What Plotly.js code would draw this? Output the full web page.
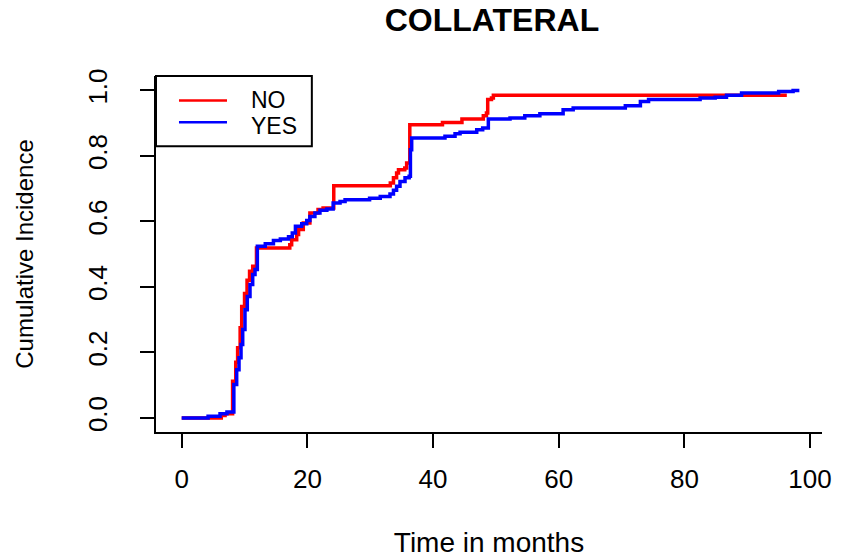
<!DOCTYPE html>
<html>
<head>
<meta charset="utf-8">
<script src="https://cdn.plot.ly/plotly-3.0.1.min.js"></script>
<style>html,body{margin:0;padding:0;background:#fff;}#chart{width:841px;height:558px;}</style>
</head>
<body>
<div id="chart"></div>
<script>
// Cumulative incidence curves
const timeNO = [0, 6.3, 6.9, 8.1, 8.6, 8.9, 9.3, 9.55, 10.0, 10.4, 10.8, 11.3, 11.9, 17.2, 17.5, 18.3, 18.6, 19.35, 20.4, 21.7, 22.5, 24.2, 33.2, 33.7, 34.2, 34.5, 35.5, 35.8, 36.3, 41.5, 44.6, 48.0, 48.5, 48.7, 49.3, 49.6, 96.3];
const cifNO  = [0, 0.007, 0.013, 0.112, 0.17, 0.214, 0.275, 0.34, 0.38, 0.42, 0.448, 0.463, 0.519, 0.529, 0.544, 0.56, 0.575, 0.595, 0.626, 0.636, 0.641, 0.709, 0.717, 0.733, 0.748, 0.758, 0.763, 0.778, 0.895, 0.902, 0.913, 0.923, 0.931, 0.972, 0.977, 0.985, 0.985];

const timeYES = [0, 4.2, 6.1, 7.2, 8.3, 8.75, 9.12, 9.44, 9.71, 10.07, 10.44, 10.87, 11.3, 11.67, 12.04, 13.3, 14.6, 15.7, 17.0, 17.6, 18.1, 19.1, 19.9, 20.4, 21.2, 22.0, 23.1, 24.1, 25.2, 26.0, 29.9, 31.6, 33.15, 33.7, 34.2, 34.74, 35.54, 36.2, 36.4, 36.6, 41.9, 43.5, 44.3, 46.95, 47.9, 48.8, 52.25, 54.6, 57.0, 60.7, 62.3, 70.6, 73.0, 74.3, 82.5, 84.9, 86.7, 89.1, 95.0, 97.3, 98.3];
const cifYES  = [0, 0.005, 0.013, 0.018, 0.102, 0.147, 0.184, 0.224, 0.27, 0.33, 0.371, 0.407, 0.438, 0.453, 0.524, 0.532, 0.542, 0.546, 0.553, 0.565, 0.585, 0.593, 0.603, 0.615, 0.626, 0.634, 0.638, 0.656, 0.661, 0.666, 0.671, 0.676, 0.684, 0.695, 0.707, 0.722, 0.733, 0.738, 0.819, 0.855, 0.86, 0.868, 0.872, 0.88, 0.885, 0.913, 0.916, 0.923, 0.929, 0.941, 0.946, 0.953, 0.966, 0.972, 0.977, 0.979, 0.985, 0.992, 0.997, 1.0, 1.0];

const groupNames = ['NO', 'YES'];
const groupColors = ['#ff0000', '#0000ff'];
const xTicks = [0, 20, 40, 60, 80, 100];
const yTicks = [0, 0.2, 0.4, 0.6, 0.8, 1.0];

const FONT = 'Liberation Sans, Arial, Helvetica, sans-serif';

const traces = [
  {x: timeNO, y: cifNO, name: groupNames[0], mode: 'lines', line: {shape: 'hv', color: groupColors[0], width: 3.5}},
  {x: timeYES, y: cifYES, name: groupNames[1], mode: 'lines', line: {shape: 'hv', color: groupColors[1], width: 3.5}}
];

// custom legend (box, line samples, labels) in paper coordinates
const legLineY = [0.931, 0.870];
const legTextY = [0.9313, 0.8583];
const shapes = [
  {type: 'rect', xref: 'paper', yref: 'paper', x0: 0, x1: 0.234, y0: 0.803, y1: 1, line: {color: '#000', width: 2}, fillcolor: 'rgba(0,0,0,0)'}
];
const annotations = [];
groupNames.forEach((g, i) => {
  shapes.push({type: 'line', xref: 'paper', yref: 'paper', x0: 0.0345, x1: 0.1066, y0: legLineY[i], y1: legLineY[i], line: {color: groupColors[i], width: 2.5}});
  annotations.push({xref: 'paper', yref: 'paper', x: 0.1400, y: legTextY[i], xanchor: 'left', yanchor: 'middle', text: g, showarrow: false, font: {family: FONT, size: 23, color: '#000'}});
});

const layout = {
  width: 841, height: 558,
  margin: {l: 156, r: 19, t: 76, b: 126},
  paper_bgcolor: '#fff', plot_bgcolor: '#fff',
  font: {family: FONT, color: '#000'},
  showlegend: false,
  title: {text: 'COLLATERAL', font: {family: FONT, size: 32, weight: 'bold', color: '#000'}, x: 0.585, xanchor: 'center', y: 0.964, yanchor: 'middle', xref: 'container', yref: 'container'},
  xaxis: {
    range: [-4.09, 101.9], tickvals: xTicks, ticktext: xTicks.map(String),
    showgrid: false, zeroline: false, showline: true, linecolor: '#000', linewidth: 2,
    ticks: 'outside', ticklen: 14, tickwidth: 2, tickcolor: '#000',
    tickfont: {family: FONT, size: 26, color: '#000'}, ticklabelstandoff: 9,
    title: {text: 'Time in months', font: {family: FONT, size: 28, color: '#000'}, standoff: 49},
    automargin: false
  },
  yaxis: {
    range: [-0.043, 1.044], tickvals: yTicks, ticktext: yTicks.map(v => v.toFixed(1)),
    showgrid: false, zeroline: false, showline: true, linecolor: '#000', linewidth: 2,
    ticks: 'outside', ticklen: 14, tickwidth: 2, tickcolor: '#000', tickangle: -90,
    tickfont: {family: FONT, size: 26, color: '#000'}, ticklabelstandoff: 23,
    title: {text: 'Cumulative Incidence', font: {family: FONT, size: 24, color: '#000'}, standoff: 42},
    automargin: false
  },
  shapes: shapes,
  annotations: annotations
};

Plotly.newPlot('chart', traces, layout, {displayModeBar: false, staticPlot: true});
</script>
</body>
</html>
